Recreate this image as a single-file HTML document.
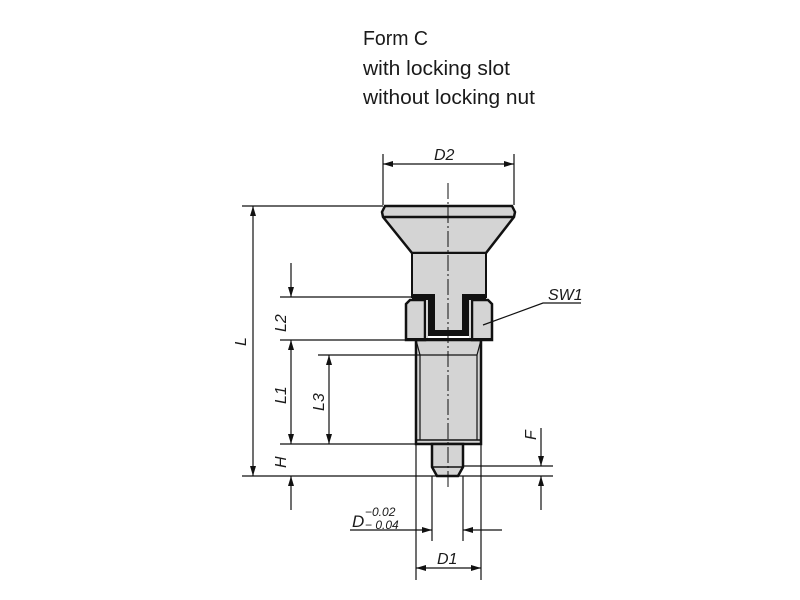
<!DOCTYPE html>
<html><head><meta charset="utf-8"><style>
html,body{margin:0;padding:0;background:#fff;}
svg{display:block;}
text{font-family:"Liberation Sans",sans-serif;fill:#1a1a1a;}
</style></head><body>
<svg width="800" height="600" viewBox="0 0 800 600" xmlns="http://www.w3.org/2000/svg">
<defs>
<marker id="a" viewBox="0 0 10 6" refX="10" refY="3" markerWidth="10" markerHeight="6" orient="auto-start-reverse" markerUnits="userSpaceOnUse"><path d="M0,0 L10,3 L0,6 z" fill="#111"/></marker>
</defs>
<g font-size="20">
<text x="363" y="45" textLength="65" lengthAdjust="spacingAndGlyphs">Form C</text>
<text x="363" y="75" textLength="147" lengthAdjust="spacingAndGlyphs">with locking slot</text>
<text x="363" y="104" textLength="172" lengthAdjust="spacingAndGlyphs">without locking nut</text>
</g>
<g stroke="#111" fill="#d4d4d4">
<path d="M385,206 L512,206 L515,212 L514,217 L486,253 L412,253 L383,217 L382,212 Z" stroke-width="2.5"/>
<line x1="384" y1="217" x2="514" y2="217" stroke-width="2.5"/>
<rect x="412" y="253" width="74" height="44" stroke-width="2"/>
<path d="M416,340 L481,340 L481,444 L416,444 Z" stroke-width="2.5"/>
<line x1="420" y1="355" x2="477" y2="355" stroke-width="1.2"/>
<line x1="416" y1="340" x2="420" y2="355" stroke-width="1.2"/>
<line x1="481" y1="340" x2="477" y2="355" stroke-width="1.2"/>
<line x1="420" y1="355" x2="420" y2="440" stroke-width="1.2"/>
<line x1="477" y1="355" x2="477" y2="440" stroke-width="1.2"/>
<line x1="416" y1="440" x2="481" y2="440" stroke-width="1.5"/>
<path d="M432,444 L463,444 L463,467 L458,476 L437,476 L432,467 Z" stroke-width="2.5"/>
<line x1="432" y1="467" x2="463" y2="467" stroke-width="1.5"/>
<path d="M406,340 L406,304 L410,300 L425,300 L425,340 Z" stroke-width="2.5"/>
<path d="M492,340 L492,304 L488,300 L472,300 L472,340 Z" stroke-width="2.5"/>
<rect x="406" y="338" width="86" height="3" fill="#111" stroke="none"/>
<path d="M412,294 L486,294 L486,300 L469,300 L469,336 L428,336 L428,300 L412,300 Z" fill="#111" stroke="none"/>
<path d="M435,292 L462,292 L462,330 L435,330 Z" fill="#d4d4d4" stroke="none"/>
<rect x="425" y="300" width="3" height="38" fill="#d4d4d4" stroke="none"/>
<rect x="469" y="300" width="3" height="38" fill="#d4d4d4" stroke="none"/>
<line x1="425" y1="300" x2="425" y2="339" stroke-width="2"/>
<line x1="472" y1="300" x2="472" y2="339" stroke-width="2"/>
</g>
<line x1="448" y1="183" x2="448" y2="490" stroke="#111" stroke-width="1" stroke-dasharray="16,3,2,3"/>
<g stroke="#111" stroke-width="1.2" fill="none">
<line x1="383" y1="154" x2="383" y2="205"/>
<line x1="514" y1="154" x2="514" y2="205"/>
<line x1="383" y1="164" x2="514" y2="164" marker-start="url(#a)" marker-end="url(#a)"/>
<line x1="242" y1="206" x2="383" y2="206"/>
<line x1="253" y1="206" x2="253" y2="476" marker-start="url(#a)" marker-end="url(#a)"/>
<line x1="242" y1="476" x2="553" y2="476"/>
<line x1="280" y1="297" x2="412" y2="297"/>
<line x1="280" y1="340" x2="406" y2="340"/>
<line x1="291" y1="263" x2="291" y2="297" marker-end="url(#a)"/>
<line x1="291" y1="340" x2="291" y2="444" marker-start="url(#a)" marker-end="url(#a)"/>
<line x1="280" y1="444" x2="416" y2="444"/>
<line x1="318" y1="355" x2="420" y2="355"/>
<line x1="329" y1="355" x2="329" y2="444" marker-start="url(#a)" marker-end="url(#a)"/>
<line x1="291" y1="510" x2="291" y2="476" marker-end="url(#a)"/>
<line x1="463" y1="466" x2="553" y2="466"/>
<line x1="541" y1="428" x2="541" y2="466" marker-end="url(#a)"/>
<line x1="541" y1="510" x2="541" y2="476" marker-end="url(#a)"/>
<line x1="432" y1="476" x2="432" y2="541"/>
<line x1="463" y1="476" x2="463" y2="541"/>
<line x1="350" y1="530" x2="432" y2="530" marker-end="url(#a)"/>
<line x1="502" y1="530" x2="463" y2="530" marker-end="url(#a)"/>
<line x1="416" y1="444" x2="416" y2="580"/>
<line x1="481" y1="444" x2="481" y2="580"/>
<line x1="416" y1="568" x2="481" y2="568" marker-start="url(#a)" marker-end="url(#a)"/>
<polyline points="483,325 543,303 581,303"/>
</g>
<g font-size="16" font-style="italic">
<text x="434" y="160">D2</text>
<text x="548" y="300">SW1</text>
<text x="437" y="564">D1</text>
<text x="352" y="527" font-size="17">D</text>
<text x="365" y="516" font-size="12">−0.02</text>
<text x="365" y="529" font-size="12">− 0.04</text>
<text transform="translate(246,346) rotate(-90)">L</text>
<text transform="translate(286,332) rotate(-90)">L2</text>
<text transform="translate(286,404) rotate(-90)">L1</text>
<text transform="translate(324,411) rotate(-90)">L3</text>
<text transform="translate(286,468) rotate(-90)">H</text>
<text transform="translate(536,440) rotate(-90)">F</text>
</g>
</svg>
</body></html>
